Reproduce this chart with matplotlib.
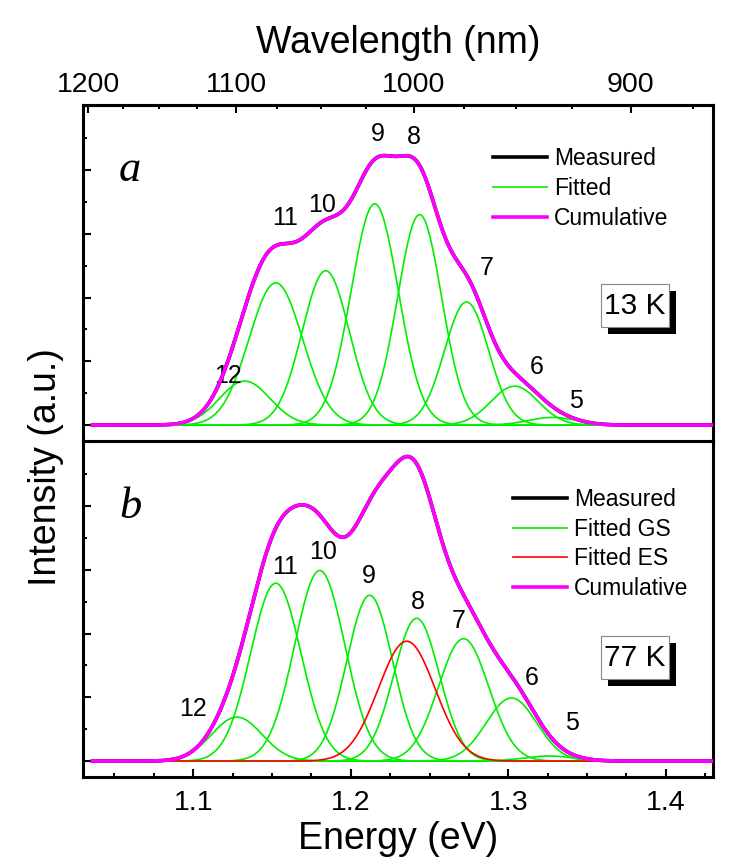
import numpy as np
import matplotlib.pyplot as plt
from matplotlib.patches import Rectangle
from matplotlib.ticker import MultipleLocator, FixedLocator, NullLocator

plt.rcParams['font.family'] = ['Liberation Sans', 'DejaVu Sans']

# peak parameters (center eV, height a.u., sigma eV)
peak_names = ['12', '11', '10', '9', '8', '7', '6', '5']

a_center = [1.1327, 1.1524, 1.1841, 1.2152, 1.2437, 1.2735, 1.3040, 1.3280]
a_height = [0.69, 2.23, 2.42, 3.47, 3.30, 1.93, 0.61, 0.12]
a_sigma = [0.016, 0.017, 0.015, 0.015, 0.014, 0.014, 0.015, 0.015]
a_text_x = [1.1219, 1.1581, 1.1816, 1.2171, 1.2399, 1.2862, 1.3178, 1.3432]
a_text_y = [0.77, 3.25, 3.45, 4.57, 4.51, 2.47, 0.91, 0.38]

b_center = [1.1277, 1.1524, 1.1803, 1.2120, 1.2418, 1.2716, 1.3020, 1.3260]
b_height = [0.69, 2.79, 2.99, 2.60, 2.24, 1.92, 0.99, 0.08]
b_sigma = [0.016, 0.016, 0.016, 0.0145, 0.0145, 0.016, 0.016, 0.016]
b_text_x = [1.0996, 1.1581, 1.1822, 1.2114, 1.2425, 1.2684, 1.3147, 1.3401]
b_text_y = [0.82, 3.05, 3.28, 2.91, 2.50, 2.20, 1.31, 0.60]

es_center = 1.2355
es_height = 1.88
es_sigma = 0.018

energy = np.linspace(1.036, 1.44, 900)


def gauss(c, h, s):
    return h * np.exp(-(energy - c) ** 2 / (2 * s ** 2))


fig = plt.figure(figsize=(7.31, 8.59), dpi=100)
ax1 = fig.add_axes([0.1135, 0.4866, 0.862, 0.3912])
ax2 = fig.add_axes([0.1135, 0.0954, 0.862, 0.3912])

green = '#00ee00'


def panel(ax, centers, heights, sigmas, tx, ty, es=None):
    comps = [gauss(c, h, s) for c, h, s in zip(centers, heights, sigmas)]
    total = np.sum(comps, axis=0)
    if es is not None:
        es_curve = gauss(*es)
        total = total + es_curve
    ax.plot(energy, total, color='black', lw=2.6, label='Measured', zorder=2)
    for i, cmp in enumerate(comps):
        ax.plot(energy, cmp, color=green, lw=1.2, zorder=3,
                label=('Fitted GS' if es is not None else 'Fitted') if i == 0 else None)
    if es is not None:
        ax.plot(energy, es_curve, color='red', lw=1.2, zorder=4, label='Fitted ES')
    ax.plot(energy, total, color='#ff00ff', lw=2.6, label='Cumulative', zorder=5)
    for n, x, y in zip(peak_names, tx, ty):
        ax.text(x, y, n, fontsize=18, ha='center', va='center')
    ax.set_xlim(1.03, 1.43)
    ax.set_ylim(-0.25, 5.02)
    ax.yaxis.set_major_locator(MultipleLocator(1))
    ax.yaxis.set_minor_locator(MultipleLocator(0.5))
    ax.tick_params(axis='y', which='both', direction='in', left=True, right=False,
                   labelleft=False)
    ax.tick_params(axis='y', which='major', length=6, width=1.5)
    ax.tick_params(axis='y', which='minor', length=3, width=1.5)
    for sp in ax.spines.values():
        sp.set_linewidth(2.2)


panel(ax1, a_center, a_height, a_sigma, a_text_x, a_text_y)
panel(ax2, b_center, b_height, b_sigma, b_text_x, b_text_y,
      es=(es_center, es_height, es_sigma))

# x axes
ax1.xaxis.set_major_locator(NullLocator())
ax1.xaxis.set_minor_locator(NullLocator())
ax2.xaxis.set_major_locator(MultipleLocator(0.1))
ax2.xaxis.set_minor_locator(MultipleLocator(0.025))
ax2.tick_params(axis='x', which='both', direction='in', top=False, labelsize=20.5, pad=9)
ax2.tick_params(axis='x', which='major', length=6, width=1.5)
ax2.tick_params(axis='x', which='minor', length=3, width=1.5)
ax2.set_xlabel('Energy (eV)', fontsize=27, labelpad=4)

sec = ax1.secondary_xaxis('top', functions=(lambda e: 1239.84 / e, lambda w: 1239.84 / w))
sec.xaxis.set_major_locator(FixedLocator([900, 1000, 1100, 1200]))
sec.xaxis.set_minor_locator(FixedLocator(np.arange(875, 1226, 25)))
sec.tick_params(axis='x', which='both', direction='in', labelsize=20.5, pad=5)
sec.tick_params(axis='x', which='major', length=6, width=1.5)
sec.tick_params(axis='x', which='minor', length=3, width=1.5)
sec.spines['top'].set_linewidth(2.2)
sec.set_xlabel('Wavelength (nm)', fontsize=27, labelpad=14)

fig.text(0.063, 0.456, 'Intensity (a.u.)', fontsize=27, rotation=90,
         ha='center', va='center')

# panel letters
for ax, letter in ((ax1, 'a'), (ax2, 'b')):
    ax.text(0.075, 0.805, letter, transform=ax.transAxes,
            fontsize=32, family='Liberation Serif', style='italic',
            ha='center', va='center')

# legends
ax1.legend(loc='upper left', bbox_to_anchor=(0.651, 0.874), frameon=False,
           fontsize=16.5, handlelength=2.35, handletextpad=0.3, labelspacing=0.3,
           borderpad=0, borderaxespad=0)
ax2.legend(loc='upper left', bbox_to_anchor=(0.6825, 0.861), frameon=False,
           fontsize=16.5, handlelength=2.35, handletextpad=0.3, labelspacing=0.3,
           borderpad=0, borderaxespad=0)

# temperature boxes with drop shadow
for ax, label, yb, yt in ((ax1, '13 K', 0.339, 0.403), (ax2, '77 K', 0.292, 0.354)):
    ax.add_patch(Rectangle((0.822 + 0.0111, yb - 0.0208), 0.108, 0.127,
                           transform=ax.transAxes, fc='black', ec='none', zorder=9))
    ax.add_patch(Rectangle((0.822, yb), 0.108, 0.127, transform=ax.transAxes,
                           fc='white', ec='#888888', lw=0.8, zorder=10))
    ax.text(0.876, yt, label, transform=ax.transAxes, fontsize=21.5,
            ha='center', va='center', zorder=11)

fig.savefig('out.png', dpi=100)
